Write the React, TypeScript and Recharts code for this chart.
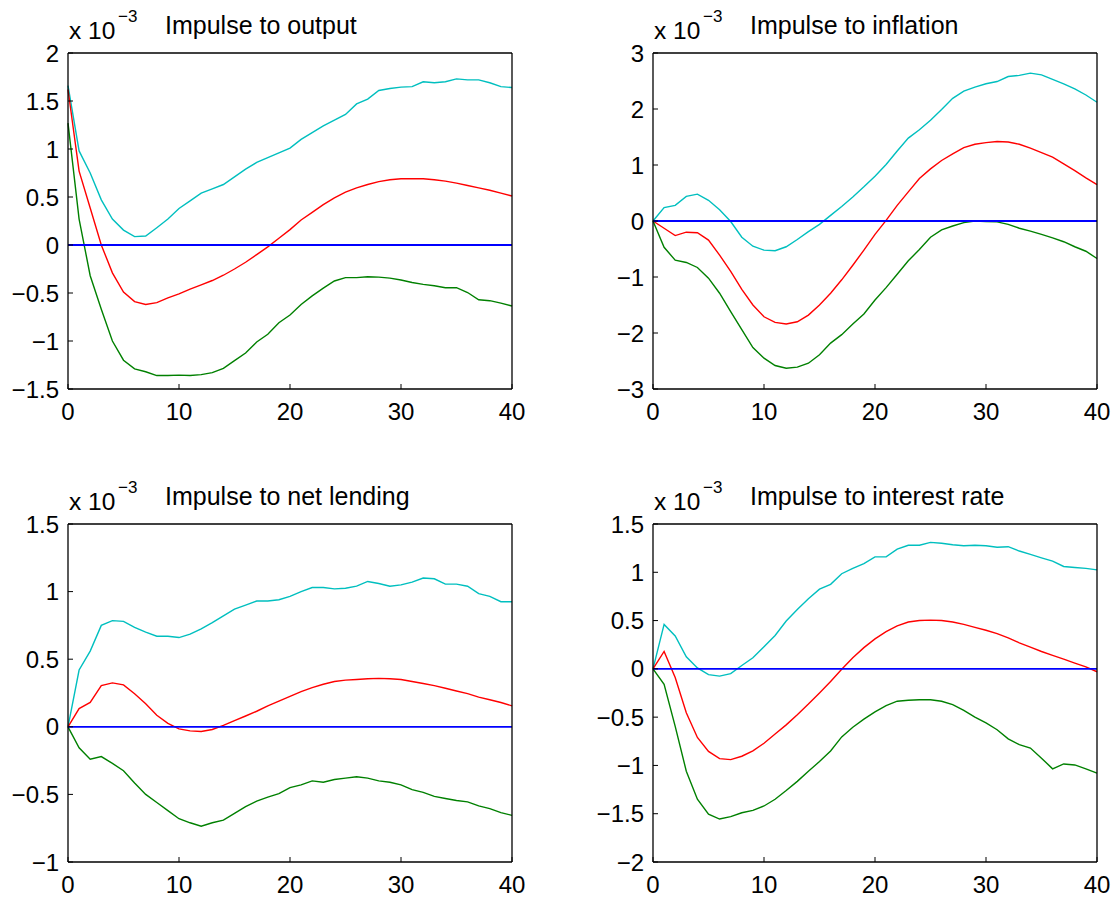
import React from 'react';
import { LineChart, Line, XAxis, YAxis, ReferenceLine } from 'recharts';

const periods = [0, 1, 2, 3, 4, 5, 6, 7, 8, 9, 10, 11, 12, 13, 14, 15, 16, 17, 18, 19, 20, 21, 22, 23, 24, 25, 26, 27, 28, 29, 30, 31, 32, 33, 34, 35, 36, 37, 38, 39, 40];
const xTicks = [0, 10, 20, 30, 40];

// Impulse to output (x 10^-3)
const outputUpper = [1.66, 0.98, 0.75, 0.47, 0.27, 0.155, 0.087, 0.093, 0.18, 0.27, 0.38, 0.46, 0.54, 0.585, 0.63, 0.71, 0.79, 0.86, 0.91, 0.96, 1.01, 1.10, 1.17, 1.24, 1.30, 1.36, 1.47, 1.52, 1.61, 1.63, 1.645, 1.65, 1.70, 1.69, 1.70, 1.73, 1.72, 1.72, 1.69, 1.65, 1.64];
const outputIrf = [1.62, 0.77, 0.385, 0.0, -0.29, -0.49, -0.59, -0.62, -0.60, -0.55, -0.51, -0.46, -0.415, -0.37, -0.315, -0.25, -0.18, -0.10, -0.02, 0.07, 0.16, 0.26, 0.34, 0.42, 0.49, 0.55, 0.595, 0.63, 0.66, 0.68, 0.69, 0.69, 0.69, 0.68, 0.665, 0.645, 0.62, 0.595, 0.57, 0.54, 0.51];
const outputLower = [1.27, 0.27, -0.32, -0.67, -1.0, -1.2, -1.29, -1.32, -1.36, -1.36, -1.355, -1.36, -1.35, -1.33, -1.285, -1.205, -1.125, -1.01, -0.93, -0.81, -0.73, -0.62, -0.53, -0.45, -0.375, -0.34, -0.34, -0.33, -0.335, -0.345, -0.365, -0.39, -0.41, -0.425, -0.445, -0.445, -0.495, -0.57, -0.58, -0.605, -0.635];
const outputTicks = [-1.5, -1, -0.5, 0, 0.5, 1, 1.5, 2];

// Impulse to inflation
const inflationUpper = [0, 0.24, 0.28, 0.44, 0.48, 0.37, 0.20, -0.01, -0.29, -0.45, -0.52, -0.53, -0.46, -0.33, -0.19, -0.06, 0.10, 0.26, 0.43, 0.61, 0.80, 1.01, 1.25, 1.48, 1.63, 1.80, 1.99, 2.19, 2.32, 2.39, 2.45, 2.49, 2.58, 2.60, 2.64, 2.61, 2.53, 2.45, 2.36, 2.25, 2.12];
const inflationIrf = [0, -0.13, -0.26, -0.20, -0.21, -0.34, -0.61, -0.90, -1.22, -1.50, -1.71, -1.81, -1.84, -1.80, -1.68, -1.50, -1.29, -1.05, -0.79, -0.52, -0.24, 0.01, 0.28, 0.52, 0.76, 0.93, 1.08, 1.20, 1.31, 1.37, 1.40, 1.42, 1.41, 1.37, 1.30, 1.22, 1.14, 1.02, 0.90, 0.77, 0.65];
const inflationLower = [0, -0.47, -0.70, -0.74, -0.83, -1.02, -1.29, -1.62, -1.94, -2.26, -2.45, -2.58, -2.63, -2.61, -2.54, -2.39, -2.18, -2.03, -1.84, -1.66, -1.41, -1.19, -0.95, -0.71, -0.51, -0.29, -0.16, -0.09, -0.03, 0.0, -0.01, -0.015, -0.06, -0.13, -0.18, -0.24, -0.30, -0.37, -0.46, -0.54, -0.67];
const inflationTicks = [-3, -2, -1, 0, 1, 2, 3];

// Impulse to net lending
const lendingUpper = [0, 0.42, 0.56, 0.75, 0.785, 0.78, 0.735, 0.70, 0.67, 0.67, 0.66, 0.685, 0.725, 0.77, 0.82, 0.87, 0.90, 0.93, 0.93, 0.94, 0.965, 1.00, 1.03, 1.03, 1.02, 1.025, 1.04, 1.075, 1.06, 1.04, 1.05, 1.07, 1.10, 1.095, 1.055, 1.055, 1.04, 0.985, 0.965, 0.925, 0.925];
const lendingIrf = [0, 0.135, 0.18, 0.305, 0.325, 0.31, 0.245, 0.17, 0.085, 0.025, -0.015, -0.03, -0.035, -0.02, 0.01, 0.045, 0.08, 0.115, 0.155, 0.19, 0.225, 0.26, 0.29, 0.315, 0.335, 0.345, 0.35, 0.355, 0.358, 0.355, 0.35, 0.335, 0.32, 0.305, 0.285, 0.265, 0.245, 0.22, 0.20, 0.18, 0.155];
const lendingLower = [0, -0.155, -0.24, -0.22, -0.27, -0.325, -0.415, -0.50, -0.56, -0.62, -0.68, -0.71, -0.735, -0.71, -0.69, -0.64, -0.59, -0.55, -0.52, -0.495, -0.45, -0.43, -0.40, -0.41, -0.39, -0.38, -0.37, -0.38, -0.40, -0.41, -0.43, -0.465, -0.485, -0.515, -0.53, -0.545, -0.555, -0.585, -0.605, -0.635, -0.655];
const lendingTicks = [-1, -0.5, 0, 0.5, 1, 1.5];

// Impulse to interest rate
const rateUpper = [0, 0.46, 0.34, 0.125, 0.01, -0.06, -0.075, -0.05, 0.035, 0.115, 0.23, 0.345, 0.495, 0.615, 0.725, 0.825, 0.875, 0.985, 1.04, 1.09, 1.16, 1.16, 1.24, 1.28, 1.28, 1.31, 1.30, 1.285, 1.275, 1.28, 1.275, 1.26, 1.265, 1.22, 1.185, 1.15, 1.115, 1.06, 1.05, 1.04, 1.025];
const rateIrf = [0, 0.18, -0.09, -0.455, -0.71, -0.855, -0.93, -0.94, -0.905, -0.85, -0.77, -0.675, -0.58, -0.475, -0.365, -0.25, -0.13, -0.005, 0.115, 0.22, 0.31, 0.385, 0.445, 0.485, 0.50, 0.505, 0.50, 0.485, 0.46, 0.43, 0.40, 0.365, 0.32, 0.27, 0.225, 0.18, 0.14, 0.10, 0.06, 0.02, -0.03];
const rateLower = [0, -0.16, -0.595, -1.06, -1.35, -1.505, -1.555, -1.53, -1.49, -1.465, -1.42, -1.35, -1.26, -1.165, -1.06, -0.96, -0.85, -0.705, -0.605, -0.52, -0.445, -0.38, -0.335, -0.325, -0.32, -0.32, -0.335, -0.37, -0.43, -0.50, -0.56, -0.63, -0.725, -0.785, -0.82, -0.925, -1.035, -0.985, -0.995, -1.035, -1.08];
const rateTicks = [-2, -1.5, -1, -0.5, 0, 0.5, 1, 1.5];

const titles = ['Impulse to output', 'Impulse to inflation', 'Impulse to net lending', 'Impulse to interest rate'];

const FONT = '"Liberation Sans", Arial, Helvetica, sans-serif';
const CYAN = '#00BFBF';
const RED = '#FF0000';
const GREEN = '#008000';
const BLUE = '#0000FF';

const buildRows = (upper: number[], irf: number[], lower: number[]) =>
  periods.map((t, i) => ({ t, upper: upper[i], irf: irf[i], lower: lower[i] }));

const fmt = (v: number) => String(v).replace('-', '\u2212');

type PanelProps = {
  left: number;
  top: number;
  margin: { top: number; right: number; bottom: number; left: number };
  rows: any[];
  yTicks: number[];
  title: string;
  plotLeft: number;
  plotTop: number;
};

const Panel = ({ left, top, margin, rows, yTicks, title, plotLeft, plotTop }: PanelProps) => {
  const domain: [number, number] = [yTicks[0], yTicks[yTicks.length - 1]];
  const tickStyle = { fontSize: 24, fill: '#000', fontFamily: FONT };
  const axisLine = { stroke: '#000', strokeWidth: 1.3 };
  const tickLine = { stroke: '#000', strokeWidth: 1 };
  return (
    <div style={{ position: 'absolute', left, top, width: 560, height: 452 }}>
      <LineChart width={560} height={452} data={rows} margin={margin}>
        <XAxis
          xAxisId="b"
          dataKey="t"
          type="number"
          domain={[0, 40]}
          ticks={xTicks}
          orientation="bottom"
          height={1}
          tickSize={-5}
          tickMargin={19}
          tick={tickStyle}
          axisLine={axisLine}
          tickLine={tickLine}
          interval={0}
        />
        <XAxis
          xAxisId="top"
          dataKey="t"
          type="number"
          domain={[0, 40]}
          ticks={xTicks}
          orientation="top"
          height={1}
          tickSize={-5}
          tick={false}
          axisLine={axisLine}
          tickLine={tickLine}
          interval={0}
        />
        <YAxis
          yAxisId="l"
          type="number"
          domain={domain}
          ticks={yTicks}
          orientation="left"
          width={1}
          tickSize={-5}
          tickMargin={14}
          tick={tickStyle}
          tickFormatter={fmt}
          axisLine={axisLine}
          tickLine={tickLine}
          interval={0}
        />
        <YAxis
          yAxisId="r"
          type="number"
          domain={domain}
          ticks={yTicks}
          orientation="right"
          width={1}
          tickSize={-5}
          tick={false}
          axisLine={axisLine}
          tickLine={tickLine}
          interval={0}
        />
        <Line xAxisId="b" yAxisId="l" type="linear" dataKey="upper" stroke={CYAN} strokeWidth={1.4} dot={false} activeDot={false} isAnimationActive={false} />
        <Line xAxisId="b" yAxisId="l" type="linear" dataKey="irf" stroke={RED} strokeWidth={1.4} dot={false} activeDot={false} isAnimationActive={false} />
        <Line xAxisId="b" yAxisId="l" type="linear" dataKey="lower" stroke={GREEN} strokeWidth={1.4} dot={false} activeDot={false} isAnimationActive={false} />
        <ReferenceLine xAxisId="b" yAxisId="l" y={0} stroke={BLUE} strokeWidth={1.8} />
      </LineChart>
      <svg
        width={560}
        height={452}
        style={{ position: 'absolute', left: 0, top: 0, pointerEvents: 'none' }}
      >
        <text x={plotLeft + 1} y={plotTop - 14} fontSize={24.5} fontFamily={FONT} fill="#000">
          x 10
        </text>
        <text x={plotLeft + 50} y={plotTop - 31} fontSize={17} fontFamily={FONT} fill="#000">
          {'\u22123'}
        </text>
        <text x={plotLeft + 97} y={plotTop - 19} fontSize={25} fontFamily={FONT} fill="#000">
          {title}
        </text>
      </svg>
    </div>
  );
};

export default function App() {
  const rowsOutput = buildRows(outputUpper, outputIrf, outputLower);
  const rowsInflation = buildRows(inflationUpper, inflationIrf, inflationLower);
  const rowsLending = buildRows(lendingUpper, lendingIrf, lendingLower);
  const rowsRate = buildRows(rateUpper, rateIrf, rateLower);
  return (
    <div style={{ position: 'absolute', left: 0, top: 0, width: 1120, height: 904, background: '#fff', overflow: 'hidden' }}>
      <Panel left={0} top={0} margin={{ top: 52, right: 47, bottom: 62, left: 67 }} rows={rowsOutput} yTicks={outputTicks} title={titles[0]} plotLeft={68} plotTop={53} />
      <Panel left={560} top={0} margin={{ top: 52, right: 22, bottom: 62, left: 92 }} rows={rowsInflation} yTicks={inflationTicks} title={titles[1]} plotLeft={93} plotTop={53} />
      <Panel left={0} top={452} margin={{ top: 71, right: 47, bottom: 41, left: 67 }} rows={rowsLending} yTicks={lendingTicks} title={titles[2]} plotLeft={68} plotTop={72} />
      <Panel left={560} top={452} margin={{ top: 71, right: 22, bottom: 41, left: 92 }} rows={rowsRate} yTicks={rateTicks} title={titles[3]} plotLeft={93} plotTop={72} />
    </div>
  );
}
